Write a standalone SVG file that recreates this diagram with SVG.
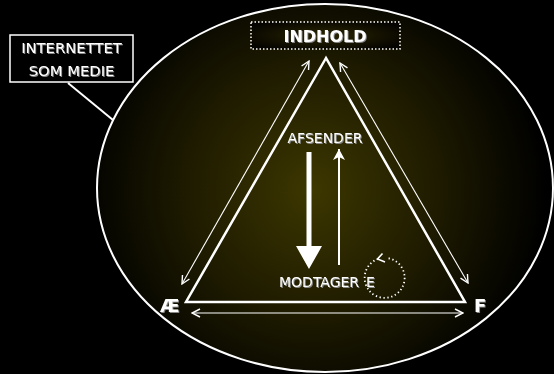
<svg xmlns="http://www.w3.org/2000/svg" width="554" height="374" viewBox="0 0 554 374">
<defs>
<radialGradient id="bg" cx="312" cy="190" r="235" gradientUnits="userSpaceOnUse">
<stop offset="0" stop-color="#3d3700"/>
<stop offset="0.55" stop-color="#1d1a00"/>
<stop offset="1" stop-color="#000"/>
</radialGradient>
<radialGradient id="box" cx="0.5" cy="0.5" r="0.6">
<stop offset="0" stop-color="#2c2700"/>
<stop offset="1" stop-color="#050400"/>
</radialGradient>
<filter id="sh" x="-10%" y="-20%" width="130%" height="160%">
<feDropShadow dx="1" dy="1" stdDeviation="0.6" flood-color="#888" flood-opacity="1"/>
</filter>
<marker id="oh" viewBox="0 0 10 10" refX="9" refY="5" markerWidth="10" markerHeight="10" markerUnits="userSpaceOnUse" orient="auto-start-reverse">
<path d="M1,1 L9,5 L1,9" fill="none" stroke="#fff" stroke-width="1.4"/>
</marker>
<marker id="fh" viewBox="0 0 12 14" refX="11" refY="7" markerWidth="12" markerHeight="14" markerUnits="userSpaceOnUse" orient="auto">
<path d="M0,1 L11,7 L0,13 L3,7 Z" fill="#fff"/>
</marker>
</defs>
<style>
text{font-family:"DejaVu Sans","Liberation Sans",sans-serif;fill:#fff}
.lbl{font-size:14px;filter:url(#sh)}
.big{font-size:14.8px}
.bold{font-weight:bold;filter:url(#sh)}
.thin{stroke:#fff;stroke-width:1.1;fill:none}
</style>
<rect width="554" height="374" fill="#000"/>
<g id="internet">
<ellipse cx="325" cy="188" rx="228" ry="184" fill="url(#bg)" stroke="#fff" stroke-width="2"/>
</g>
<g id="callout">
<rect x="10" y="35" width="123" height="47" fill="#000" stroke="#fff" stroke-width="1.5"/>
<text class="lbl big" x="71.5" y="52.5" text-anchor="middle">INTERNETTET</text>
<text class="lbl big" x="71.5" y="75.5" text-anchor="middle">SOM MEDIE</text>
</g>
<g id="triangle">
<path d="M326,58 L186,302 L465,302 Z" fill="none" stroke="#fff" stroke-width="2.5" stroke-linejoin="miter"/>
</g>
<g id="connectors">
<line x1="68" y1="83" x2="113" y2="120" stroke="#fff" stroke-width="2"/>
<line class="thin" x1="182" y1="284" x2="309" y2="61" marker-start="url(#oh)" marker-end="url(#oh)"/>
<line class="thin" x1="340" y1="63" x2="468" y2="283" marker-start="url(#oh)" marker-end="url(#oh)"/>
<line class="thin" x1="192" y1="313" x2="463" y2="313" stroke-width="1.5" marker-start="url(#oh)" marker-end="url(#oh)"/>
<path d="M306.5,152 L311.5,152 L311.5,246 L322,246 L309,269 L296,246 L306.5,246 Z" fill="#fff"/>
<line x1="339" y1="265" x2="339" y2="149" stroke="#fff" stroke-width="2" marker-end="url(#fh)"/>
<path d="M378,259 A20,20 0 1,0 387,258" fill="none" stroke="#fff" stroke-width="1.8" stroke-dasharray="1.3 2.6"/>
<path d="M382.5,253.5 L377.5,259 L385,262" fill="none" stroke="#fff" stroke-width="1.6"/>
</g>
<g id="indhold">
<rect x="251" y="22" width="149" height="27" fill="url(#box)" stroke="#fff" stroke-width="1.5" stroke-dasharray="1.5 2"/>
<text class="bold" x="325" y="42" text-anchor="middle" font-size="16">INDHOLD</text>
</g>
<g id="afsender">
<text class="lbl" x="325" y="143" text-anchor="middle">AFSENDER</text>
</g>
<g id="modtagere">
<text class="lbl" x="279" y="287">MODTAGER<tspan dx="7">E</tspan></text>
</g>
<g id="ae">
<text class="bold" x="160" y="312" font-size="18">Æ</text>
</g>
<g id="f">
<text class="bold" x="474" y="312" font-size="18">F</text>
</g>
</svg>
